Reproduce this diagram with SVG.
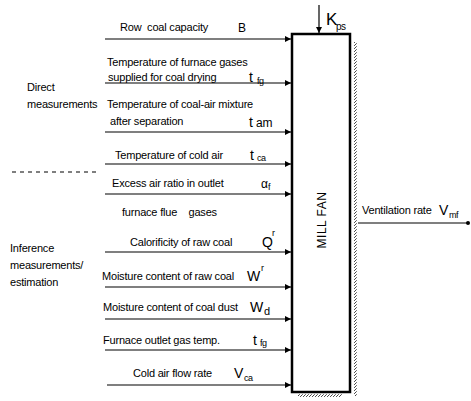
<svg xmlns="http://www.w3.org/2000/svg" width="471" height="401" viewBox="0 0 471 401">
<defs>
<marker id="ah" viewBox="0 0 10 10" refX="10" refY="5" markerWidth="9" markerHeight="6" markerUnits="userSpaceOnUse" orient="auto">
<path d="M0,0 L10,5 L0,10 z" fill="#000"/>
</marker>
<pattern id="hatch" width="3" height="3" patternUnits="userSpaceOnUse">
<rect width="3" height="3" fill="#fff"/>
<rect width="1" height="1" fill="#555"/>
<rect x="2" y="1" width="1" height="1" fill="#777"/>
<rect x="1" y="2" width="1" height="1" fill="#444"/>
</pattern>
</defs>
<style>
text{font-family:"Liberation Sans",Arial,sans-serif;fill:#000;white-space:pre}
.t{font-size:11px;letter-spacing:-0.2px}
.s{font-size:14px}
.sub{font-size:9px;letter-spacing:-0.5px}
.conn line{stroke:#000;stroke-width:1.2}
</style>
<rect width="471" height="401" fill="#fff"/>

<g id="labels-left">
<text class="t" x="27" y="91">Direct</text>
<text class="t" x="27" y="108">measurements</text>
<line x1="12" y1="172" x2="100" y2="172" stroke="#000" stroke-width="1.2" stroke-dasharray="4,4"/>
<text class="t" x="10" y="252">Inference</text>
<text class="t" x="10" y="269">measurements/</text>
<text class="t" x="10" y="286">estimation</text>
</g>

<g class="conn" id="connectors">
<line x1="105" y1="39" x2="291" y2="39" marker-end="url(#ah)"/>
<line x1="105" y1="83" x2="291" y2="83" marker-end="url(#ah)"/>
<line x1="105" y1="132" x2="291" y2="132" marker-end="url(#ah)"/>
<line x1="105" y1="164" x2="291" y2="164" marker-end="url(#ah)"/>
<line x1="105" y1="194" x2="291" y2="194" marker-end="url(#ah)"/>
<line x1="105" y1="252" x2="291" y2="252" marker-end="url(#ah)"/>
<line x1="105" y1="287" x2="291" y2="287" marker-end="url(#ah)"/>
<line x1="105" y1="319" x2="291" y2="319" marker-end="url(#ah)"/>
<line x1="105" y1="350" x2="291" y2="350" marker-end="url(#ah)"/>
<line x1="107" y1="385" x2="291" y2="385" marker-end="url(#ah)"/>
<line x1="319" y1="5" x2="319" y2="33" marker-end="url(#ah)"/>
<line x1="358" y1="223" x2="468" y2="223"/>
<circle cx="468" cy="223" r="2" fill="#000"/>
</g>

<g id="in-B">
<text class="t" x="120" y="31">Row  coal capacity</text>
<text class="s" x="238" y="32" style="font-size:12px">B</text>
</g>
<g id="in-tfg">
<text class="t" x="107" y="66">Temperature of furnace gases</text>
<text class="t" x="108" y="81">supplied for coal drying</text>
<text class="s" x="249" y="82">t</text><text class="sub" x="257" y="84">fg</text>
</g>
<g id="in-tam">
<text class="t" x="107" y="108">Temperature of coal-air mixture</text>
<text class="t" x="110" y="125">after separation</text>
<text class="s" x="249" y="127">t</text><text class="t" x="256" y="127" style="font-size:12px">am</text>
</g>
<g id="in-tca">
<text class="t" x="115" y="159">Temperature of cold air</text>
<text class="s" x="250" y="160">t</text><text class="sub" x="257" y="161">ca</text>
</g>
<g id="in-af">
<text class="t" x="112" y="187">Excess air ratio in outlet</text>
<text class="s" x="261" y="188" style="font-size:12px">α</text><text class="sub" x="268" y="190">f</text>
<text class="t" x="122" y="216">furnace flue    gases</text>
</g>
<g id="in-Qr">
<text class="t" x="130" y="246">Calorificity of raw coal</text>
<text class="s" x="262" y="247">Q</text><text class="sub" x="272" y="236">r</text>
</g>
<g id="in-Wr">
<text class="t" x="102" y="280">Moisture content of raw coal</text>
<text class="s" x="247" y="281">W</text><text class="sub" x="261" y="271">r</text>
</g>
<g id="in-Wd">
<text class="t" x="103" y="311">Moisture content of coal dust</text>
<text class="s" x="250" y="312">W</text><text class="sub" x="264" y="315" style="font-size:11px">d</text>
</g>
<g id="in-tfg2">
<text class="t" x="103" y="344">Furnace outlet gas temp.</text>
<text class="s" x="253" y="345">t</text><text class="sub" x="260" y="346">fg</text>
</g>
<g id="in-Vca">
<text class="t" x="133" y="377">Cold air flow rate</text>
<text class="s" x="234" y="378">V</text><text class="sub" x="244" y="381">ca</text>
</g>

<g id="Kps">
<text x="326" y="25" style="font-size:17px">K</text>
<text x="336" y="30" style="font-size:10px;letter-spacing:-0.5px">ps</text>
</g>

<g id="mill-fan">
<rect x="354" y="42" width="3" height="354" fill="url(#hatch)"/>
<rect x="298" y="394" width="44" height="3" fill="url(#hatch)"/>
<rect x="292" y="34" width="58" height="358" fill="#fff" stroke="#000" stroke-width="2.5"/>
<text x="326" y="220" text-anchor="middle" transform="rotate(-90 326 220)" style="font-size:12px;letter-spacing:0.5px">MILL FAN</text>
</g>

<g id="out-V">
<text class="t" x="362" y="214">Ventilation rate</text>
<text class="s" x="439" y="215">V</text><text class="sub" x="449" y="218">mf</text>
</g>
</svg>
